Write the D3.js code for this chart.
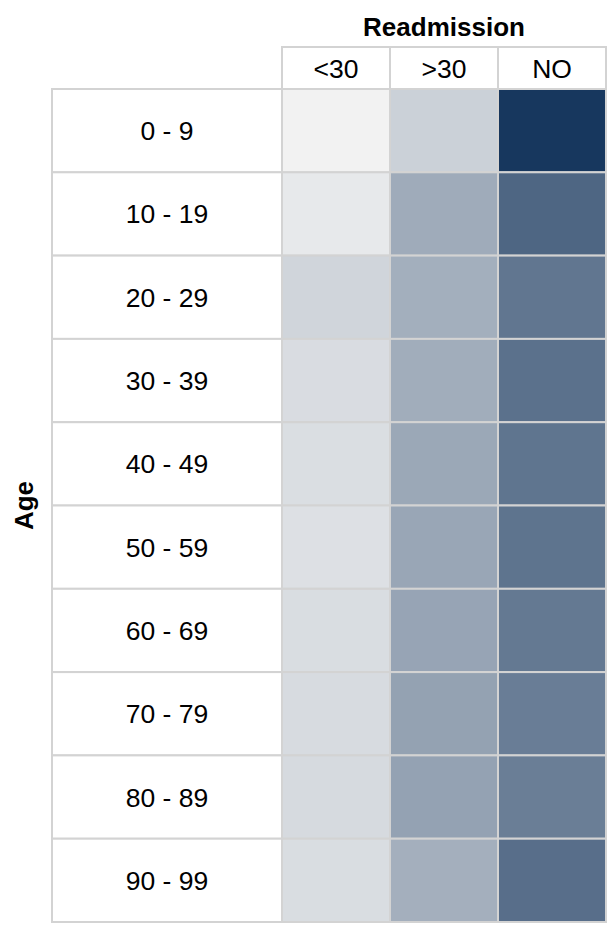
<!DOCTYPE html>
<html><head><meta charset="utf-8">
<script src="https://cdn.jsdelivr.net/npm/d3@7"></script>
<style>body{margin:0;background:#fff}svg{display:block}</style>
</head><body>
<svg id="chart" width="610" height="930"></svg>
<script>
const ageGroups = ["0 - 9","10 - 19","20 - 29","30 - 39","40 - 49","50 - 59","60 - 69","70 - 79","80 - 89","90 - 99"];
const readmitCats = ["<30", ">30", "NO"];
// percent of encounters per age group
const pctLT30 = [1.9, 5.8, 14.2, 11.2, 10.6, 9.7, 11.1, 11.8, 12.1, 11.1];
const pctGT30 = [16.1, 32.4, 30.8, 31.4, 33.8, 34.3, 35.1, 36.3, 36.2, 30.5];
const pctNO   = [82.0, 61.8, 55.0, 57.3, 55.6, 56.0, 53.7, 51.9, 51.7, 58.4];
const series = [pctLT30, pctGT30, pctNO];
const colorRange = ["#f2f2f2", "#17375e"];

const svg = d3.select("#chart");
const font = "'Liberation Sans', Arial, Helvetica, sans-serif";
const grid = "#d3d3d3";

const x = d3.scaleBand().domain(readmitCats).range([282, 606]);
const y = d3.scaleBand().domain(ageGroups).range([89, 922]);
const labelX0 = 52, labelX1 = 282, headY0 = 47, headY1 = 89;

const cells = [];
ageGroups.forEach((a, i) => readmitCats.forEach((c, j) => cells.push({age: a, cat: c, v: series[j][i]})));
const allVals = cells.map(d => d.v);
const color = d3.scaleLinear().domain([d3.min(allVals), d3.max(allVals)]).range(colorRange).interpolate(d3.interpolateRgb);

// row label cells
svg.append("g").selectAll("rect").data(ageGroups).join("rect")
  .attr("x", labelX0).attr("y", d => y(d))
  .attr("width", labelX1 - labelX0).attr("height", y.bandwidth())
  .attr("fill", "#fff").attr("stroke", grid).attr("stroke-width", 2);
svg.append("g").selectAll("text").data(ageGroups).join("text")
  .attr("x", (labelX0 + labelX1) / 2).attr("y", d => y(d) + y.bandwidth() / 2 + 9.5)
  .attr("text-anchor", "middle").attr("font-family", font).attr("font-size", 26.5).attr("fill", "#000")
  .text(d => d);

// column header cells
svg.append("g").selectAll("rect").data(readmitCats).join("rect")
  .attr("x", d => x(d)).attr("y", headY0)
  .attr("width", x.bandwidth()).attr("height", headY1 - headY0)
  .attr("fill", "#fff").attr("stroke", grid).attr("stroke-width", 2);
svg.append("g").selectAll("text").data(readmitCats).join("text")
  .attr("x", d => x(d) + x.bandwidth() / 2).attr("y", 78)
  .attr("text-anchor", "middle").attr("font-family", font).attr("font-size", 26.5).attr("fill", "#000")
  .text(d => d);

// heat cells
svg.append("g").selectAll("rect").data(cells).join("rect")
  .attr("x", d => x(d.cat)).attr("y", d => y(d.age))
  .attr("width", x.bandwidth()).attr("height", y.bandwidth())
  .attr("fill", d => color(d.v)).attr("stroke", grid).attr("stroke-width", 2);

// titles
svg.append("text").attr("x", (282 + 606) / 2).attr("y", 36)
  .attr("text-anchor", "middle").attr("font-family", font).attr("font-weight", "bold")
  .attr("font-size", 26).attr("fill", "#000").text("Readmission");
svg.append("text").attr("transform", `translate(33,${(89 + 922) / 2}) rotate(-90)`)
  .attr("text-anchor", "middle").attr("font-family", font).attr("font-weight", "bold")
  .attr("font-size", 26).attr("fill", "#000").text("Age");
</script>
</body></html>
